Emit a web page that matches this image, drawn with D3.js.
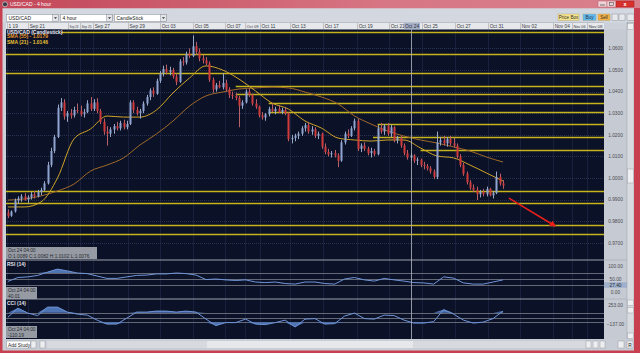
<!DOCTYPE html>
<html><head><meta charset="utf-8">
<script src="https://cdn.jsdelivr.net/npm/d3@7/dist/d3.min.js"></script>
<style>
body{margin:0;background:#fff;overflow:hidden}
svg{display:block}
text{font-family:"Liberation Sans",Arial,sans-serif}
</style>
</head><body>
<svg id="c" width="640" height="353"></svg>
<script>
// ---------------- DATA ----------------
// 4-hour OHLC bars, [open, high, low, close]
const bars = [
[0.9840,0.9855,0.9815,0.9825],[0.9825,0.9850,0.9820,0.9845],[0.9845,0.9905,0.9840,0.9895],[0.9895,0.9915,0.9880,0.9905],
[0.9905,0.9925,0.9890,0.9915],[0.9915,0.9930,0.9895,0.9900],[0.9900,0.9920,0.9885,0.9910],[0.9910,0.9935,0.9900,0.9925],
[0.9925,0.9940,0.9905,0.9915],[0.9915,0.9945,0.9910,0.9935],[0.9935,0.9955,0.9920,0.9945],[0.9945,0.9985,0.9940,0.9975],
[0.9975,1.0075,0.9970,1.0060],[1.0060,1.0140,1.0050,1.0125],[1.0125,1.0200,1.0115,1.0190],[1.0190,1.0340,1.0185,1.0325],
[1.0325,1.0370,1.0310,1.0350],[1.0350,1.0365,1.0270,1.0285],[1.0285,1.0310,1.0260,1.0300],[1.0300,1.0320,1.0275,1.0290],
[1.0290,1.0330,1.0280,1.0315],[1.0315,1.0345,1.0300,1.0310],[1.0310,1.0335,1.0285,1.0295],[1.0295,1.0320,1.0280,1.0305],
[1.0305,1.0360,1.0300,1.0345],[1.0345,1.0375,1.0310,1.0320],[1.0320,1.0365,1.0310,1.0350],[1.0350,1.0370,1.0300,1.0310],
[1.0310,1.0320,1.0250,1.0260],[1.0260,1.0275,1.0200,1.0215],[1.0215,1.0240,1.0150,1.0205],[1.0205,1.0235,1.0190,1.0225],
[1.0225,1.0250,1.0205,1.0240],[1.0240,1.0260,1.0220,1.0230],[1.0230,1.0265,1.0220,1.0255],[1.0255,1.0270,1.0225,1.0235],
[1.0235,1.0265,1.0225,1.0250],[1.0250,1.0360,1.0245,1.0350],[1.0350,1.0360,1.0300,1.0315],[1.0315,1.0330,1.0290,1.0300],
[1.0300,1.0320,1.0275,1.0310],[1.0310,1.0355,1.0300,1.0345],[1.0345,1.0385,1.0335,1.0375],[1.0375,1.0415,1.0360,1.0405],
[1.0405,1.0420,1.0375,1.0390],[1.0390,1.0460,1.0385,1.0450],[1.0450,1.0495,1.0440,1.0485],[1.0485,1.0520,1.0470,1.0505],
[1.0505,1.0525,1.0480,1.0490],[1.0490,1.0515,1.0475,1.0500],[1.0500,1.0510,1.0460,1.0470],[1.0470,1.0485,1.0430,1.0445],
[1.0445,1.0550,1.0440,1.0540],[1.0540,1.0560,1.0520,1.0535],[1.0535,1.0585,1.0525,1.0575],[1.0575,1.0600,1.0555,1.0565],
[1.0565,1.0660,1.0560,1.0610],[1.0610,1.0630,1.0570,1.0585],[1.0585,1.0600,1.0540,1.0555],[1.0555,1.0570,1.0530,1.0545],
[1.0545,1.0560,1.0520,1.0530],[1.0530,1.0540,1.0445,1.0455],[1.0455,1.0465,1.0395,1.0410],[1.0410,1.0440,1.0400,1.0430],
[1.0430,1.0450,1.0415,1.0420],[1.0420,1.0485,1.0410,1.0440],[1.0440,1.0455,1.0400,1.0410],[1.0410,1.0420,1.0370,1.0385],
[1.0385,1.0400,1.0365,1.0380],[1.0380,1.0395,1.0360,1.0370],[1.0370,1.0380,1.0235,1.0335],[1.0335,1.0360,1.0320,1.0350],
[1.0350,1.0410,1.0345,1.0400],[1.0400,1.0415,1.0375,1.0385],[1.0385,1.0390,1.0335,1.0345],[1.0345,1.0365,1.0320,1.0330],
[1.0330,1.0335,1.0280,1.0290],[1.0290,1.0305,1.0270,1.0280],[1.0280,1.0300,1.0265,1.0295],[1.0295,1.0330,1.0285,1.0320],
[1.0320,1.0345,1.0305,1.0310],[1.0310,1.0330,1.0295,1.0320],[1.0320,1.0335,1.0300,1.0305],[1.0305,1.0325,1.0295,1.0315],
[1.0315,1.0330,1.0290,1.0300],[1.0300,1.0305,1.0170,1.0180],[1.0180,1.0200,1.0160,1.0185],[1.0185,1.0205,1.0170,1.0195],
[1.0195,1.0215,1.0180,1.0205],[1.0205,1.0240,1.0195,1.0230],[1.0230,1.0255,1.0215,1.0245],[1.0245,1.0260,1.0205,1.0215],
[1.0215,1.0240,1.0200,1.0225],[1.0225,1.0235,1.0185,1.0195],[1.0195,1.0215,1.0180,1.0205],[1.0205,1.0210,1.0135,1.0145],
[1.0145,1.0160,1.0110,1.0120],[1.0120,1.0135,1.0100,1.0110],[1.0110,1.0125,1.0095,1.0115],[1.0115,1.0130,1.0095,1.0105],
[1.0105,1.0115,1.0050,1.0080],[1.0080,1.0175,1.0075,1.0165],[1.0165,1.0215,1.0155,1.0205],[1.0205,1.0225,1.0185,1.0195],
[1.0195,1.0240,1.0190,1.0230],[1.0230,1.0275,1.0220,1.0265],[1.0265,1.0275,1.0125,1.0135],[1.0135,1.0160,1.0120,1.0150],
[1.0150,1.0165,1.0125,1.0135],[1.0135,1.0145,1.0105,1.0115],[1.0115,1.0140,1.0095,1.0125],[1.0125,1.0135,1.0100,1.0110],
[1.0110,1.0245,1.0105,1.0230],[1.0230,1.0255,1.0205,1.0215],[1.0215,1.0250,1.0200,1.0240],[1.0240,1.0255,1.0195,1.0205],
[1.0205,1.0245,1.0190,1.0235],[1.0235,1.0240,1.0165,1.0175],[1.0175,1.0195,1.0160,1.0185],[1.0185,1.0195,1.0140,1.0150],
[1.0150,1.0160,1.0105,1.0115],[1.0115,1.0130,1.0085,1.0095],[1.0095,1.0115,1.0080,1.0105],[1.0105,1.0110,1.0070,1.0080],
[1.0080,1.0095,1.0060,1.0085],[1.0085,1.0090,1.0050,1.0060],[1.0060,1.0075,1.0040,1.0055],[1.0055,1.0065,1.0035,1.0045],
[1.0045,1.0055,1.0020,1.0030],[1.0030,1.0040,0.9995,1.0005],[1.0005,1.0215,0.9995,1.0165],[1.0165,1.0190,1.0150,1.0175],
[1.0175,1.0195,1.0150,1.0160],[1.0160,1.0190,1.0145,1.0180],[1.0180,1.0195,1.0150,1.0160],[1.0160,1.0185,1.0140,1.0150],
[1.0150,1.0160,1.0090,1.0100],[1.0100,1.0110,1.0050,1.0060],[1.0060,1.0070,1.0010,1.0020],[1.0020,1.0030,0.9970,0.9980],
[0.9980,0.9990,0.9945,0.9955],[0.9955,0.9970,0.9935,0.9945],[0.9945,0.9960,0.9898,0.9925],[0.9925,0.9945,0.9910,0.9935],
[0.9935,0.9950,0.9915,0.9925],[0.9925,0.9960,0.9915,0.9950],[0.9950,0.9955,0.9915,0.9920],[0.9920,0.9940,0.9905,0.9930],
[0.9930,1.0030,0.9925,1.0005],[1.0005,1.0020,0.9965,0.9975],[0.9975,0.9990,0.9950,0.9965]
];
// moving averages, one value every 5 bars
const sma21 = [0.9866,0.9866,0.9889,1.0000,1.0181,1.0227,1.0287,1.0282,1.0282,1.0315,1.0394,1.0463,1.0519,1.0500,1.0458,1.0403,
               1.0347,1.0319,1.0264,1.0231,1.0185,1.0176,1.0171,1.0176,1.0176,1.0139,1.0102,1.0093,1.0060,1.0023,0.9986];
const sma55 = [0.9898,0.9903,0.9917,0.9940,0.9972,1.0032,1.0060,1.0093,1.0153,1.0204,1.0264,1.0333,1.0380,1.0398,1.0412,1.0417,
               1.0421,1.0417,1.0398,1.0375,1.0343,1.0287,1.0250,1.0218,1.0194,1.0176,1.0162,1.0144,1.0125,1.0097,1.0074];
// oscillators, one value every 3 bars
const rsi = [42,55,57,62,73,83,77,70,68,60,52,52,57,62,63,67,67,70,68,63,48,50,47,45,47,40,38,40,35,33,40,40,35,33,50,55,47,43,52,47,43,38,37,33,57,53,37,33,33,40,47];
const cci = [8,198,93,40,219,219,114,72,51,-55,-139,-139,-13,114,114,135,135,114,135,114,-34,-171,-108,-108,-34,-139,-150,-108,-55,-200,
             -34,-23,-139,-129,30,93,-23,-34,51,40,-55,-118,-118,-87,167,72,-55,-118,-97,-23,135];
// horizontal support / resistance levels [price, first bar]
const levelPrices = [1.0677,1.0573,1.0488,1.0427,1.0388,1.0347,1.0306,1.0250,1.0191,1.0130,0.9938,0.9886,0.9781,0.9739];
const levelStart  = [null,null,null,69,69,79,79,112,110.6,125,null,null,null,null];
const priceTicks = [0.97,0.98,0.99,1.00,1.01,1.02,1.03,1.04,1.05,1.06];
const rsiLevels = [70,50,30];
const rsiTicks = [100,50,0];
const cciLevels = [100,0,-100];
const cciTicks = [253,-137];
const dateLabels = ["1 19","Sep 21","Sep 23","Sep 25","Sep 27","Sep 29","Oct 03","Oct 05","Oct 07","Oct 09","Oct 11","Oct 13",
                    "Oct 17","Oct 19","Oct 21","Oct 25","Oct 27","Oct 31","Nov 02","Nov 04","Nov 06","Nov 08"];
const dateIdx = [-0.3,6.1,18.2,21.8,25.8,36.4,46.1,56.1,65.8,71.8,76.4,85.5,95.5,105.8,115.5,125.5,135.5,145.5,155.2,165.2,170.9,175.5];
const crossIdx = 122.1, crossLabel = "Oct 24";
const arrowPts = [[151.8,0.9907],[165.8,0.9778]];
const infoMain = ["Oct 24  04:00","O:1.0089  C:1.0082  H:1.0102  L:1.0076"];
const infoRsi = ["Oct 24  04:00","40.01"];
const infoCci = ["Oct 24  04:00","-110.19"];
const rsiCurrent = "27.40";

// ---------------- LAYOUT ----------------
const svg = d3.select('#c');
const L = 6, R = 604;
const mainTop = 29.5, mainBot = 260, rsiBot = 299, cciBot = 339;
const x = d3.scaleLinear().domain([0,150]).range([8,503]);
const y = d3.scaleLinear().domain([0.97,1.06]).range([242.8,48.4]);
const yR = d3.scaleLinear().domain([0,100]).range([294,264]);
const yC = d3.scaleLinear().domain([-137,253]).range([324,305.5]);
const BG = '#0b1127', GRID = '#283150';

const defs = svg.append('defs');
const tg = defs.append('linearGradient').attr('id','tb').attr('x1',0).attr('x2',1).attr('y1',0).attr('y2',0);
tg.append('stop').attr('offset','0%').attr('stop-color','#c24658');
tg.append('stop').attr('offset','60%').attr('stop-color','#d77684');
tg.append('stop').attr('offset','100%').attr('stop-color','#d9808d');
defs.append('clipPath').attr('id','cm').append('rect').attr('x',L).attr('y',mainTop).attr('width',R-L).attr('height',mainBot-mainTop);
defs.append('clipPath').attr('id','cr').append('rect').attr('x',L).attr('y',mainBot).attr('width',R-L).attr('height',rsiBot-mainBot);
defs.append('clipPath').attr('id','cc').append('rect').attr('x',L).attr('y',rsiBot).attr('width',R-L).attr('height',cciBot-rsiBot);
defs.append('marker').attr('id','ah').attr('viewBox','0 0 10 10').attr('refX',8).attr('refY',5)
  .attr('markerWidth',4).attr('markerHeight',4).attr('orient','auto')
  .append('path').attr('d','M0,0L10,5L0,10z').attr('fill','#e8201c');

// window chrome
svg.append('rect').attr('width',640).attr('height',353).attr('fill','#ccd0d8');
svg.append('rect').attr('width',640).attr('height',8.5).attr('fill','url(#tb)');
svg.append('circle').attr('cx',5).attr('cy',4.3).attr('r',2.5).attr('fill','#3a3a44').attr('stroke','#eee').attr('stroke-width',0.6);
svg.append('text').attr('x',10).attr('y',6.3).attr('font-size',5).attr('fill','#fff').text('USD/CAD - 4 hour');
svg.append('rect').attr('x',598).attr('y',1).attr('width',9).attr('height',6).attr('fill','#efd2d6').attr('stroke','#b86070').attr('stroke-width',0.5);
svg.append('rect').attr('x',607).attr('y',1).attr('width',9).attr('height',6).attr('fill','#efd2d6').attr('stroke','#b86070').attr('stroke-width',0.5);
svg.append('rect').attr('x',616).attr('y',1).attr('width',18).attr('height',6).attr('fill','#d8302c').attr('stroke','#a02020').attr('stroke-width',0.5);
svg.append('line').attr('x1',600).attr('x2',605).attr('y1',5).attr('y2',5).attr('stroke','#555').attr('stroke-width',0.8);
svg.append('rect').attr('x',609.5).attr('y',2.5).attr('width',4).attr('height',3).attr('fill','none').attr('stroke','#555').attr('stroke-width',0.6);
svg.append('text').attr('x',625).attr('y',6.2).attr('font-size',5.5).attr('text-anchor','middle').attr('fill','#fff').attr('font-weight','bold').text('x');

// toolbar
svg.append('rect').attr('x',2).attr('y',8.5).attr('width',632).attr('height',14).attr('fill','#d3d7df');
const dd = [["USD/CAD",6.5],["4 hour",60.5],["CandleStick",114.5]];
dd.forEach(([t,x0])=>{
  svg.append('rect').attr('x',x0).attr('y',14.5).attr('width',52).attr('height',7).attr('fill','#fff').attr('stroke','#8a8e98').attr('stroke-width',0.5);
  svg.append('rect').attr('x',x0+46).attr('y',14.5).attr('width',6).attr('height',7).attr('fill','#e4e6ea').attr('stroke','#8a8e98').attr('stroke-width',0.5);
  svg.append('path').attr('d',`M${x0+47.5},17.2L${x0+50.5},17.2L${x0+49},19z`).attr('fill','#333');
  svg.append('text').attr('x',x0+2).attr('y',20).attr('font-size',5).attr('fill','#222').text(t);
});
const btns = [["Price Box",558,21,'#f6e48c'],["Buy",583,13,'#5fb9f2'],["Sell",598,12,'#f3b044']];
btns.forEach(([t,x0,w,c])=>{
  svg.append('rect').attr('x',x0).attr('y',14).attr('width',w).attr('height',6.5).attr('fill',c).attr('stroke','#a8a070').attr('stroke-width',0.4);
  svg.append('text').attr('x',x0+w/2).attr('y',19).attr('font-size',4.6).attr('text-anchor','middle').attr('fill','#333').text(t);
});
[[612,6],[619,6],[627,7]].forEach(([x0,w])=>{
  svg.append('rect').attr('x',x0).attr('y',14).attr('width',w).attr('height',6.5).attr('fill','#e6e8ec').attr('stroke','#7a808a').attr('stroke-width',0.4);
});

// date axis strip
svg.append('rect').attr('x',L).attr('y',22.5).attr('width',R-L).attr('height',7).attr('fill','#e6e8ec');
svg.append('line').attr('x1',L).attr('x2',R).attr('y1',22.5).attr('y2',22.5).attr('stroke','#9aa0aa').attr('stroke-width',0.5);

// panels background
svg.append('rect').attr('x',L).attr('y',mainTop).attr('width',R-L).attr('height',cciBot-mainTop).attr('fill',BG);

// vertical grid
svg.append('g').selectAll('line').data(dateIdx).join('line')
  .attr('x1',d=>Math.round(x(d))+0.5).attr('x2',d=>Math.round(x(d))+0.5)
  .attr('y1',mainTop).attr('y2',cciBot).attr('stroke',GRID).attr('stroke-width',1).attr('stroke-dasharray','1,1');
// horizontal grid (main)
svg.append('g').selectAll('line').data(priceTicks).join('line')
  .attr('x1',L).attr('x2',R).attr('y1',d=>Math.round(y(d))+0.5).attr('y2',d=>Math.round(y(d))+0.5)
  .attr('stroke',GRID).attr('stroke-dasharray','1,1');

// date labels + separators
const da = svg.append('g');
da.selectAll('line').data(dateIdx).join('line')
  .attr('x1',d=>Math.round(x(d))+0.5).attr('x2',d=>Math.round(x(d))+0.5).attr('y1',23).attr('y2',29.5)
  .attr('stroke','#a4a8b2').attr('stroke-width',0.6);
da.selectAll('text').data(dateLabels).join('text')
  .attr('x',(d,i)=>x(dateIdx[i])+1.5).attr('y',27.8).attr('font-size',4.8).attr('fill','#3a3c44').text(d=>d)
  .each(function(d,i){
    const next = i<dateIdx.length-1 ? x(dateIdx[i+1]) : R;
    const avail = next - x(dateIdx[i]) - 3;
    const len = this.getComputedTextLength();
    if (len > avail) d3.select(this).attr('font-size', 4.8*avail/len);
  });
// crosshair label
const cx = Math.round(x(crossIdx))+0.5;
svg.append('rect').attr('x',cx-7.5).attr('y',23).attr('width',16).attr('height',6.3).attr('fill','#a6b2ca');
svg.append('text').attr('x',cx+0.5).attr('y',27.8).attr('font-size',4.8).attr('text-anchor','middle').attr('fill','#2a2c34').text(crossLabel);

// main panel content
const mg = svg.append('g').attr('clip-path','url(#cm)');
mg.selectAll('line.lv').data(levelPrices).join('line').attr('class','lv')
  .attr('x1',(d,i)=>levelStart[i]==null?L:x(levelStart[i])).attr('x2',R)
  .attr('y1',d=>Math.round(y(d))+0.5).attr('y2',d=>Math.round(y(d))+0.5)
  .attr('stroke','#c6b41c').attr('stroke-width',1.3);
const smaLine = d3.line().x((d,i)=>x(i*5)).y(d=>y(d)).curve(d3.curveMonotoneX);
mg.append('path').attr('d',smaLine(sma55)).attr('fill','none').attr('stroke','#a06a2a').attr('stroke-width',1);
mg.append('path').attr('d',smaLine(sma21)).attr('fill','none').attr('stroke','#cfa42a').attr('stroke-width',1);
const up = d=>d[3]>=d[0];
mg.selectAll('line.wk').data(bars).join('line').attr('class','wk')
  .attr('x1',(d,i)=>Math.round(x(i))+0.5).attr('x2',(d,i)=>Math.round(x(i))+0.5)
  .attr('y1',d=>y(d[1])).attr('y2',d=>y(d[2]))
  .attr('stroke',d=>up(d)?'#9aa8c8':'#b8606a').attr('stroke-width',1);
mg.selectAll('rect.bd').data(bars).join('rect').attr('class','bd')
  .attr('x',(d,i)=>Math.round(x(i))-0.5).attr('width',2)
  .attr('y',d=>y(Math.max(d[0],d[3]))).attr('height',d=>Math.max(1,Math.abs(y(d[0])-y(d[3]))))
  .attr('fill',d=>up(d)?'#8fa4cf':'#d03a3a');
mg.append('line').attr('x1',x(arrowPts[0][0])).attr('y1',y(arrowPts[0][1]))
  .attr('x2',x(arrowPts[1][0])).attr('y2',y(arrowPts[1][1]))
  .attr('stroke','#e8201c').attr('stroke-width',1.6).attr('marker-end','url(#ah)');
// legend
const lg = svg.append('g').attr('font-size',5).attr('font-weight','bold');
lg.append('rect').attr('x',L).attr('y',mainTop).attr('width',55).attr('height',5).attr('fill','#1a2036');
lg.append('text').attr('x',7).attr('y',33.5).attr('fill','#e8e8ee').text('USD/CAD (Candlestick)');
lg.append('text').attr('x',7).attr('y',38.3).attr('fill','#e89a2c').text('SMA (55) - 1.0179');
lg.append('text').attr('x',7).attr('y',43.5).attr('fill','#e8c234').text('SMA (21) - 1.0146');
function infoBox(lines,x0,y0,w){
  svg.append('rect').attr('x',x0).attr('y',y0).attr('width',w).attr('height',12).attr('fill','#a2a6ae').attr('opacity',0.92);
  svg.append('text').attr('x',x0+2).attr('y',y0+5).attr('font-size',4.8).attr('fill','#2a2a30').text(lines[0]);
  svg.append('text').attr('x',x0+2).attr('y',y0+10.5).attr('font-size',4.8).attr('fill','#2a2a30').text(lines[1]);
}
infoBox(infoMain,L,247,91);

// RSI panel
const rg = svg.append('g').attr('clip-path','url(#cr)');
rg.selectAll('line').data(rsiLevels).join('line').attr('x1',L).attr('x2',R)
  .attr('y1',d=>Math.round(yR(d))+0.5).attr('y2',d=>Math.round(yR(d))+0.5).attr('stroke','#7a7e8a').attr('stroke-width',0.8);
const rx = (d,i)=>x(i*3);
rg.append('path').attr('d',d3.area().x(rx).y0(yR(70)).y1(d=>yR(Math.max(d,70)))(rsi)).attr('fill','#4f74b4');
rg.append('path').attr('d',d3.area().x(rx).y0(yR(30)).y1(d=>yR(Math.min(d,30)))(rsi)).attr('fill','#4f74b4');
rg.append('path').attr('d',d3.line().x(rx).y(d=>yR(d))(rsi)).attr('fill','none').attr('stroke','#6f94d6').attr('stroke-width',1);
svg.append('text').attr('x',7).attr('y',265.5).attr('font-size',5).attr('font-weight','bold').attr('fill','#e0e2ea').text('RSI (14)');
infoBox(infoRsi,L,287,31);

// CCI panel
const ccg = svg.append('g').attr('clip-path','url(#cc)');
ccg.selectAll('line').data(cciLevels).join('line').attr('x1',L).attr('x2',R)
  .attr('y1',d=>Math.round(yC(d))+0.5).attr('y2',d=>Math.round(yC(d))+0.5).attr('stroke','#7a7e8a').attr('stroke-width',0.8);
ccg.append('path').attr('d',d3.area().x(rx).y0(yC(100)).y1(d=>yC(Math.max(d,100)))(cci)).attr('fill','#4f74b4');
ccg.append('path').attr('d',d3.area().x(rx).y0(yC(-100)).y1(d=>yC(Math.min(d,-100)))(cci)).attr('fill','#4f74b4');
ccg.append('path').attr('d',d3.line().x(rx).y(d=>yC(d))(cci)).attr('fill','none').attr('stroke','#6f94d6').attr('stroke-width',1);
svg.append('text').attr('x',7).attr('y',304.5).attr('font-size',5).attr('font-weight','bold').attr('fill','#e0e2ea').text('CCI (14)');
infoBox(infoCci,L,326,31);

[mainBot,rsiBot].forEach(v=>svg.append('line').attr('x1',L).attr('x2',R).attr('y1',v).attr('y2',v).attr('stroke','#9ea2ae').attr('stroke-width',1));

// crosshair
svg.append('line').attr('x1',cx).attr('x2',cx).attr('y1',mainTop).attr('y2',cciBot).attr('stroke','#b4b8c4').attr('stroke-width',0.8);

// right axis panel
svg.append('rect').attr('x',R).attr('y',mainTop).attr('width',23).attr('height',cciBot-mainTop).attr('fill','#c6cad2');
[mainBot,rsiBot].forEach(v=>svg.append('line').attr('x1',R).attr('x2',627).attr('y1',v).attr('y2',v).attr('stroke','#a6aab4').attr('stroke-width',0.6));
const fmt = d3.format('.4f');
svg.append('g').selectAll('text').data(priceTicks).join('text')
  .attr('x',615.5).attr('y',d=>y(d)+1.8).attr('font-size',4.8).attr('text-anchor','middle').attr('fill','#4a4c54').text(d=>fmt(d));
svg.append('g').selectAll('text').data(rsiTicks).join('text')
  .attr('x',615.5).attr('y',d=>Math.min(292,Math.max(266,yR(d)))+1.8).attr('font-size',4.8).attr('text-anchor','middle').attr('fill','#4a4c54').text(d=>d3.format('.2f')(d));
svg.append('rect').attr('x',R).attr('y',282.3).attr('width',23).attr('height',5.5).attr('fill','#9eb0cc');
svg.append('text').attr('x',615.5).attr('y',286.7).attr('font-size',4.8).attr('text-anchor','middle').attr('fill','#2a2c34').text(rsiCurrent);
svg.append('g').selectAll('text').data(cciTicks).join('text')
  .attr('x',615.5).attr('y',d=>yC(d)+1.8).attr('font-size',4.8).attr('text-anchor','middle').attr('fill','#4a4c54').text(d=>d3.format('.2f')(d));

// right scroll column
svg.append('rect').attr('x',627).attr('y',22.5).attr('width',7).attr('height',317).attr('fill','#d8dbe0').attr('stroke','#9aa0a8').attr('stroke-width',0.5);
[[23.5,6],[169,14],[300,5.5],[307.5,5.5],[333,5.5]].forEach(([y0,h])=>{
  svg.append('rect').attr('x',627.5).attr('y',y0).attr('width',6).attr('height',h).attr('fill','#eef0f2').attr('stroke','#8a9098').attr('stroke-width',0.4);
});

// bottom bar
svg.append('rect').attr('x',2).attr('y',339).attr('width',632).attr('height',11.5).attr('fill','#c8ccd4');
svg.append('rect').attr('x',47).attr('y',341).attr('width',553).attr('height',7).attr('fill','#d6d9de');
svg.append('rect').attr('x',207).attr('y',341).attr('width',206).attr('height',7).attr('fill','#e6e8ec');
svg.append('rect').attr('x',6.5).attr('y',341).attr('width',24).attr('height',7).attr('fill','#fff').attr('stroke','#8a8e98').attr('stroke-width',0.5);
svg.append('text').attr('x',8).attr('y',346.6).attr('font-size',4.8).attr('fill','#222').text('Add Study');
[[31,5],[40,5],[586,5],[593,5],[600,5],[618,6],[627,6]].forEach(([x0,w])=>{
  svg.append('rect').attr('x',x0).attr('y',341).attr('width',w).attr('height',7).attr('fill','#eceef0').attr('stroke','#8a8e98').attr('stroke-width',0.4);
});
svg.append('text').attr('x',630).attr('y',346.6).attr('font-size',4.8).attr('text-anchor','middle').attr('fill','#222').text('R');

// window border
svg.append('rect').attr('x',0).attr('y',8).attr('width',2.5).attr('height',345).attr('fill','#c8404f');
svg.append('rect').attr('x',634).attr('y',8).attr('width',6).attr('height',345).attr('fill','#c8404f');
svg.append('rect').attr('x',0).attr('y',350.5).attr('width',640).attr('height',2.5).attr('fill','#c8404f');
</script>
</body></html>
